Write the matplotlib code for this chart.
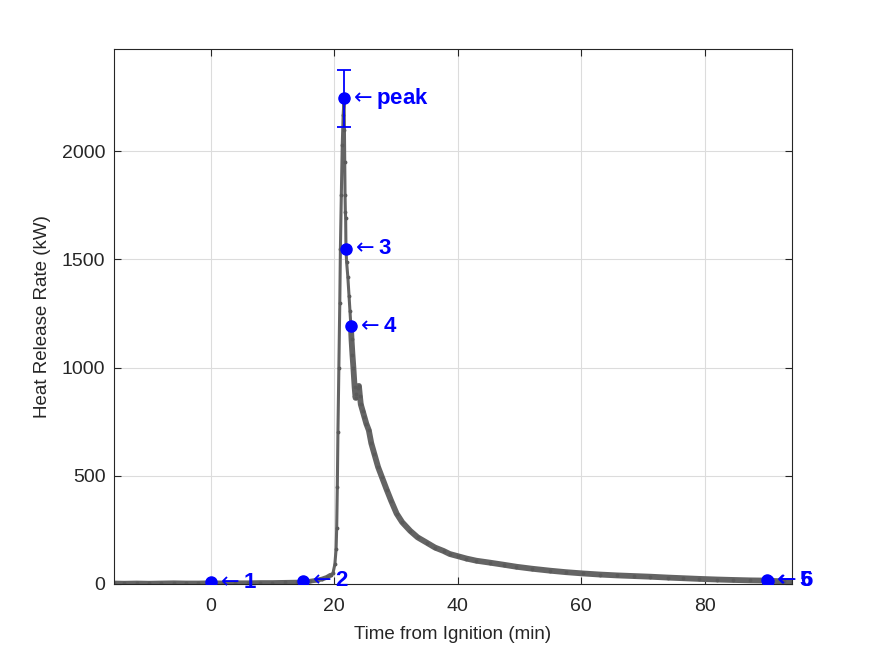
import matplotlib
matplotlib.use("Agg")
import matplotlib.pyplot as plt

plt.rcParams['font.family'] = ['Liberation Sans', 'DejaVu Sans']

# Heat release rate curve
time_min = [-15.7, -14, -12, -10, -8, -6, -4, -2, 0, 2, 4, 6, 8, 10, 12, 14, 15, 16, 17, 18, 18.8, 19.4, 19.8,
            20.1, 20.3, 20.4, 20.5, 20.6, 20.75, 20.9, 21.0, 21.15, 21.3, 21.45, 21.6,
            21.65, 21.7, 21.75, 21.8, 21.85, 21.9, 22.0, 22.2, 22.4, 22.55, 22.7, 22.8, 22.95, 23.1,
            23.3, 23.45, 23.6, 23.8, 24.0, 24.15, 24.3, 24.6, 24.9, 25.2, 25.6, 26.0, 26.5, 27.1, 27.7,
            28.5, 29.2, 30.1, 31.0, 32.3, 33.5, 35.0, 36.3, 37.7, 38.7, 40.0, 41.4, 43.0, 45.2, 47.5,
            49.5, 52.0, 54.9, 57.5, 60.3, 63.0, 65.8, 68.5, 71.2, 74.0, 76.5, 79.0, 82.0, 84.5, 87.4,
            90.0, 92.8, 94.1]
hrr_kw = [4, 3, 4, 3, 4, 5, 4, 4, 5, 4, 5, 5, 6, 6, 7, 8, 9, 12, 16, 22, 30, 40, 50,
          90, 160, 260, 450, 700, 1000, 1300, 1550, 1800, 2030, 2170, 2245,
          2100, 1950, 1800, 1720, 1690, 1550, 1490, 1420, 1330, 1260, 1190, 1130, 1060, 1000,
          910, 860, 880, 905, 915, 870, 830, 800, 770, 740, 710, 650, 600, 540, 495,
          435, 385, 325, 285, 245, 215, 190, 168, 152, 138, 128, 117, 107, 98, 88,
          79, 70, 61, 54, 48, 43, 39, 36, 33, 29, 26, 23, 20, 18, 16,
          15, 11, 10]

# Marked points
pt_labels = ['1', '2', 'peak', '3', '4', '5', '6']
pt_time = [0.0, 15.0, 21.6, 21.9, 22.7, 90.1, 90.2]
pt_hrr = [8, 14, 2245, 1550, 1190, 17, 15]
peak_err = 133

x_ticks = [0, 20, 40, 60, 80]
y_ticks = [0, 500, 1000, 1500, 2000]

fig = plt.figure(figsize=(8.75, 6.56), dpi=100)
ax = fig.add_axes([0.13, 0.11, 0.775, 0.815])

gray = '#646464'
ax.plot(time_min, hrr_kw, color=gray, lw=2.2, solid_joinstyle='round', zorder=2)
# the flat pre-ignition part and the noisy decay look thicker in the original
n_pre = sum(1 for t in time_min if t <= 19.4)
n_dec = sum(1 for t in time_min if t < 22.7)
ax.plot(time_min[:n_pre], hrr_kw[:n_pre], color=gray, lw=3.4,
        solid_capstyle='round', solid_joinstyle='round', zorder=2)
ax.plot(time_min[n_dec:], hrr_kw[n_dec:], color=gray, lw=4.2,
        solid_capstyle='round', solid_joinstyle='round', zorder=2)
ax.plot(time_min, hrr_kw, ls='none', marker='.', ms=3.5, color='#5a5a5a', zorder=2)

for lab, tx, hy in zip(pt_labels, pt_time, pt_hrr):
    if lab == 'peak':
        ax.errorbar([tx], [hy], yerr=[peak_err], fmt='o', color='#0000ff', ms=8,
                    capsize=4.7, elinewidth=1.3, capthick=1.3, zorder=4)
    else:
        ax.plot([tx], [hy], 'o', color='#0000ff', ms=8, zorder=4)
    ax.annotate(r'$\leftarrow$' + lab, xy=(tx, hy), xytext=(5, 0), textcoords='offset pixels',
                ha='left', va='center', color='#0000ff', fontsize=16, fontweight='bold',
                annotation_clip=False, zorder=5)

ax.set_xlim(-15.7, 94.1)
ax.set_ylim(0, 2472)
ax.set_xticks(x_ticks)
ax.set_yticks(y_ticks)
ax.grid(True, color='#dcdcdc', lw=0.8)
ax.set_axisbelow(True)
ax.tick_params(direction='in', top=True, right=True, length=5, width=0.8,
               labelsize=14, colors='#262626')
ax.tick_params(axis='x', pad=10)
ax.tick_params(axis='y', pad=6)
for s in ax.spines.values():
    s.set_color('#262626')
    s.set_linewidth(0.8)

ax.set_xlabel('Time from Ignition (min)', fontsize=13.5, color='#262626', labelpad=8)
ax.set_ylabel('Heat Release Rate (kW)', fontsize=13.5, color='#262626', labelpad=8)

fig.savefig('out.png', dpi=100)
